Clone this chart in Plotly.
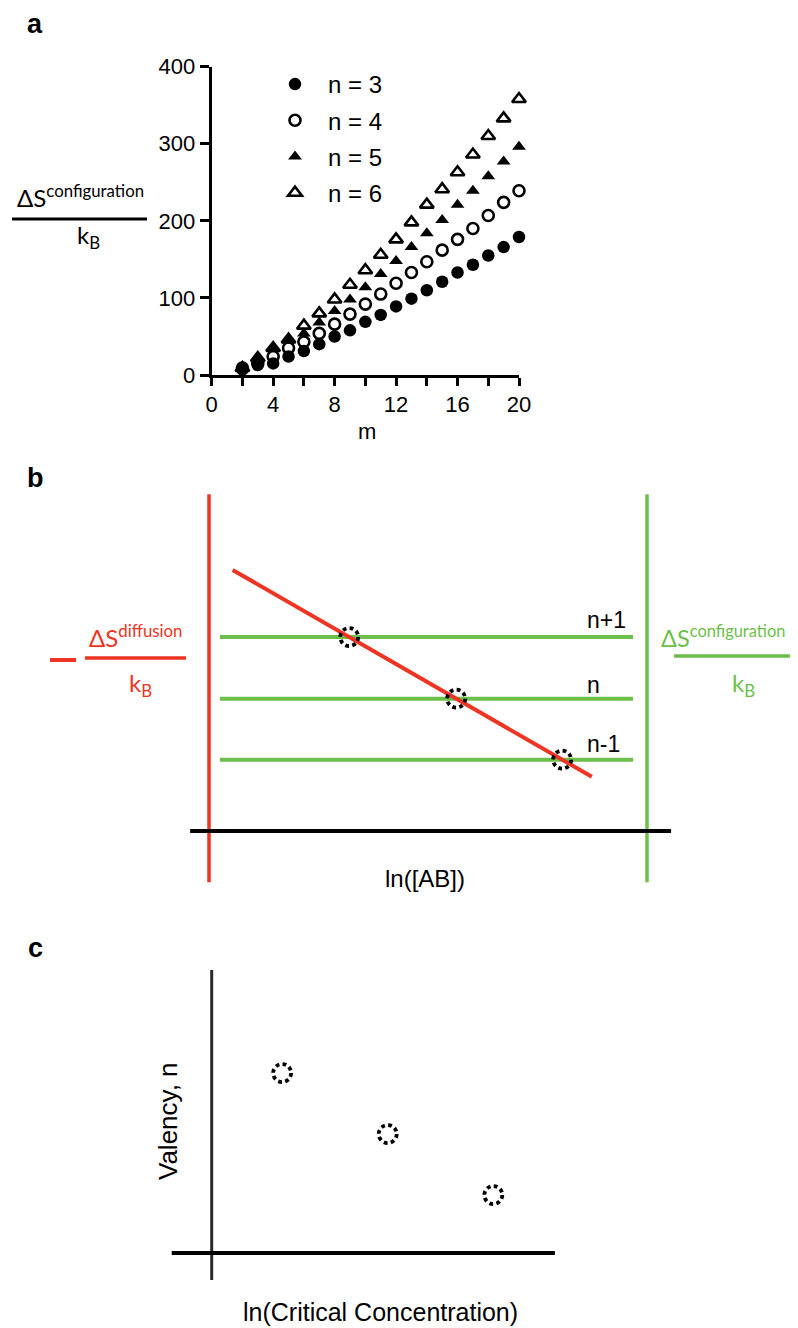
import plotly.graph_objects as go

# The page body adds an 8px margin; the figure is sized so that it fills the
# 798x1328 window from that offset, and all layout positions below are given in
# window pixels and converted.
OFF = 8
W, H = 798 - OFF, 1328 - OFF

# ---------------- Panel a data ----------------
m_vals = list(range(2, 21))
s_n3 = [7, 13, 15, 24, 31, 40, 50, 58, 69, 78, 89, 99, 110, 121, 133, 143, 155, 166, 179]
s_n4 = [9, 15, 24, 35, 43, 54, 66, 79, 92, 105, 119, 133, 147, 162, 176, 190, 207, 224, 239]
s_n5 = [11, 23, 35, 45, 54, 68, 83, 98, 114, 131, 148, 166, 184, 201, 221, 239, 258, 277, 296]
s_n6 = [9, 22, 35, 46, 64, 80, 98, 117, 136, 156, 176, 198, 221, 241, 263, 286, 310, 333, 358]
series_names = ["n = 3", "n = 4", "n = 5", "n = 6"]
x_ticks_a = [0, 4, 8, 12, 16, 20]
y_ticks_a = [0, 100, 200, 300, 400]

# ---------------- Panel b data (schematic units) ----------------
b_level_y = [1.17, 2.17, 3.18]
b_level_labels = ["n-1", "n", "n+1"]
b_level_x = [0.25, 9.68]
b_diff_x = [0.54, 8.74]
b_diff_y = [4.28, 0.89]
b_red_axis_x = [0, 0]
b_green_axis_x = [10, 10]
b_vert_y = [-0.84, 5.52]
b_base_x = [-0.43, 10.55]
b_base_y = [0, 0]

# ---------------- Panel c data (schematic units) ----------------
c_conc = [2.0, 5.0, 8.0]
c_valency = [5.9, 3.9, 1.9]
c_vert_x = [0, 0]
c_vert_y = [-0.885, 9.28]
c_horiz_x = [-1.136, 9.75]
c_horiz_y = [0, 0]

RED = "#EE3524"
GREEN = "#6CBF4A"
FONT = "Liberation Sans, Arial, sans-serif"
HFONT = "Lato, sans-serif"


def pxx(x):
    return (x - OFF) / W


def pyy(y):
    return 1 - (y - OFF) / H


fig = go.Figure()

# ---------- Panel a ----------
styles = [
    dict(symbol="circle", size=12.5, color="black", line=dict(width=0)),
    dict(symbol="circle-open", size=11, color="black", line=dict(width=2.6, color="black")),
    dict(symbol="triangle-up", size=12, color="black", line=dict(width=0)),
    dict(symbol="triangle-up-open", size=12, color="black", line=dict(width=2.6, color="black")),
]
for name, vals, st, grp in zip(series_names, [s_n3, s_n4, s_n5, s_n6], styles, ["g1", "g2", "g3", "g4"]):
    fig.add_trace(go.Scatter(x=m_vals, y=vals, mode="markers", name=name, marker=st,
                             cliponaxis=False, xaxis="x", yaxis="y", legendgroup=grp))


# ---------- Panel b ----------
def lin(color, width):
    return dict(mode="lines", line=dict(color=color, width=width), showlegend=False,
                hoverinfo="skip", cliponaxis=False)


fig.add_trace(go.Scatter(x=b_red_axis_x, y=b_vert_y, xaxis="x2", yaxis="y2", **lin(RED, 3.5)))
fig.add_trace(go.Scatter(x=b_green_axis_x, y=b_vert_y, xaxis="x2", yaxis="y2", **lin(GREEN, 3.5)))
fig.add_trace(go.Scatter(x=b_base_x, y=b_base_y, xaxis="x2", yaxis="y2", **lin("black", 4)))
for lev in b_level_y:
    fig.add_trace(go.Scatter(x=b_level_x, y=[lev, lev], xaxis="x2", yaxis="y2", **lin(GREEN, 4)))
fig.add_trace(go.Scatter(x=b_diff_x, y=b_diff_y, xaxis="x2", yaxis="y2", **lin(RED, 4)))

# intersections of diffusion line with configuration levels
slope = (b_diff_x[1] - b_diff_x[0]) / (b_diff_y[1] - b_diff_y[0])
b_cross_x = [b_diff_x[0] + (lev - b_diff_y[0]) * slope for lev in b_level_y]

# ---------- Panel c ----------
fig.add_trace(go.Scatter(x=c_vert_x, y=c_vert_y, xaxis="x3", yaxis="y3", **lin("#2a2a2a", 3)))
fig.add_trace(go.Scatter(x=c_horiz_x, y=c_horiz_y, xaxis="x3", yaxis="y3", **lin("black", 4)))

shapes = []
dotted = dict(color="black", width=3.8, dash="3.8px,3.3px")
R = 9
for cx, cy in zip(b_cross_x, b_level_y):
    shapes.append(dict(type="circle", xref="x2", yref="y2", xsizemode="pixel", ysizemode="pixel",
                       xanchor=cx, yanchor=cy, x0=-R, x1=R, y0=-R, y1=R, line=dotted))
for cx, cy in zip(c_conc, c_valency):
    shapes.append(dict(type="circle", xref="x3", yref="y3", xsizemode="pixel", ysizemode="pixel",
                       xanchor=cx, yanchor=cy, x0=-R, x1=R, y0=-R, y1=R, line=dotted))


# fraction bars and minus sign (paper coords)
def hline(x0, x1, y, color, width):
    return dict(type="line", xref="paper", yref="paper", x0=pxx(x0), x1=pxx(x1),
                y0=pyy(y), y1=pyy(y), line=dict(color=color, width=width))


shapes.append(hline(12, 147, 219, "black", 3))
shapes.append(hline(85, 186, 658, RED, 3.5))
shapes.append(hline(50, 76, 660, RED, 4))
shapes.append(hline(674, 793, 656, GREEN, 3.5))

annotations = []


def ann(text, x, y, size, color="black", family=FONT, **kw):
    d = dict(text=text, x=pxx(x), y=pyy(y), xref="paper", yref="paper", showarrow=False,
             font=dict(size=size, color=color, family=family), xanchor="center", yanchor="middle")
    d.update(kw)
    annotations.append(d)


# panel letters
ann("<b>a</b>", 35, 24, 27)
ann("<b>b</b>", 35, 478, 27)
ann("<b>c</b>", 35, 948, 27)

# panel a labels
ann("ΔS<sup>configuration</sup>", 80, 196, 24, family=HFONT)
ann("k<sub>B</sub>", 88, 236, 24, family=HFONT)
ann("m", 367, 431, 22)

# panel b labels
ann("ΔS<sup>diffusion</sup>", 135, 636, 24, color=RED, family=HFONT)
ann("k<sub>B</sub>", 140, 684, 24, color=RED, family=HFONT)
ann("ΔS<sup>configuration</sup>", 659, 636, 23.5, color=GREEN, family=HFONT, xanchor="left")
ann("k<sub>B</sub>", 743, 684, 24, color=GREEN, family=HFONT)
ann("ln([AB])", 425, 878, 24)

# axis geometry (window pixels per schematic unit)
bx0, bxs = 209.0, 43.8
by0, bys = 831.0, 61.0
bxr = [-0.6, 10.7]
byr = [-1.2, 5.8]
cx0, cxs = 211.7, 35.2
cy0, cys = 1253.0, 30.5
cxr = [-1.5, 10.5]
cyr = [-1.2, 9.6]

for lab, lev, sh in zip(b_level_labels, b_level_y, [16, 14, 17]):
    annotations.append(dict(text=lab, x=(585 - bx0) / bxs, y=lev, xref="x2", yref="y2",
                            showarrow=False, xanchor="left", yanchor="middle", yshift=sh,
                            font=dict(size=23, color="black", family=FONT)))

# panel c labels
ann("Valency, n", 168, 1121, 26, textangle=-90)
ann("ln(Critical Concentration)", 380, 1312, 25)

hidden = dict(visible=False, showgrid=False, zeroline=False)

fig.update_layout(
    width=W, height=H,
    margin=dict(l=0, r=0, t=0, b=0, pad=0, autoexpand=False),
    paper_bgcolor="white", plot_bgcolor="rgba(0,0,0,0)",
    font=dict(family=FONT, color="black"),
    xaxis=dict(domain=[pxx(211.7), pxx(519)], range=[0, 20], tickvals=x_ticks_a,
               showline=True, linewidth=3, linecolor="black", ticks="outside", ticklen=8,
               tickwidth=3, tickcolor="black", showgrid=False, zeroline=False,
               minor=dict(dtick=2, ticks="outside", ticklen=8, tickwidth=3, tickcolor="black"),
               tickfont=dict(size=22), anchor="y", automargin=False),
    yaxis=dict(domain=[pyy(375), pyy(66.7)], range=[0, 400], tickvals=y_ticks_a,
               showline=True, linewidth=3, linecolor="black", ticks="outside", ticklen=9,
               tickwidth=3, tickcolor="black", showgrid=False, zeroline=False,
               tickfont=dict(size=22), anchor="x", automargin=False),
    xaxis2=dict(domain=[pxx(bx0 + bxs * bxr[0]), pxx(bx0 + bxs * bxr[1])], range=bxr, anchor="y2", **hidden),
    yaxis2=dict(domain=[pyy(by0 - bys * byr[0]), pyy(by0 - bys * byr[1])], range=byr, anchor="x2", **hidden),
    xaxis3=dict(domain=[pxx(cx0 + cxs * cxr[0]), pxx(cx0 + cxs * cxr[1])], range=cxr, anchor="y3", **hidden),
    yaxis3=dict(domain=[pyy(cy0 - cys * cyr[0]), pyy(cy0 - cys * cyr[1])], range=cyr, anchor="x3", **hidden),
    legend=dict(x=pxx(262), y=pyy(62), xanchor="left", yanchor="top", bgcolor="rgba(0,0,0,0)",
                font=dict(size=24, family=FONT), traceorder="grouped", tracegroupgap=2,
                itemsizing="trace", itemwidth=56),
    shapes=shapes,
    annotations=annotations,
    showlegend=True,
)

fig.write_html("out.html")
